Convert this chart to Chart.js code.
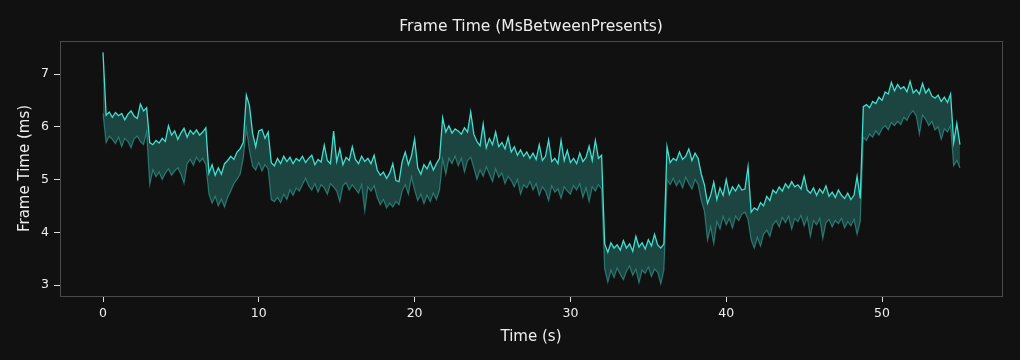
<!DOCTYPE html>
<html>
<head>
<meta charset="utf-8">
<script src="https://cdn.jsdelivr.net/npm/chart.js@4.4.1/dist/chart.umd.min.js"></script>
<style>
  html, body { margin: 0; padding: 0; background: #111111; }
  #wrap { width: 1020px; height: 360px; }
</style>
</head>
<body>
<div id="wrap"><canvas id="c" width="1020" height="360"></canvas></div>
<script>
  'use strict';

  // ── Datos (una muestra cada 0,2 s, 0 → 55 s) ──
  var T_STEP = 0.2;

  // Línea superior (cian brillante)
  var UPPER = [
    7.41, 6.22, 6.28, 6.18, 6.27,   // 0
    6.21, 6.25, 6.13, 6.24, 6.30,   // 1
    6.20, 6.16, 6.43, 6.30, 6.36,   // 2
    5.70, 5.66, 5.74, 5.69, 5.78,   // 3
    5.72, 6.02, 5.84, 5.92, 5.76,   // 4
    5.88, 5.97, 5.80, 5.93, 5.86,   // 5
    5.94, 5.84, 5.90, 5.98, 5.12,   // 6
    5.28, 5.08, 5.22, 5.10, 5.30,   // 7
    5.36, 5.44, 5.38, 5.52, 5.58,   // 8
    5.70, 6.60, 6.40, 5.88, 5.62,   // 9
    5.92, 5.95, 5.78, 5.90, 5.32,   // 10
    5.26, 5.40, 5.30, 5.44, 5.34,   // 11
    5.42, 5.30, 5.40, 5.35, 5.44,   // 12
    5.32, 5.40, 5.46, 5.28, 5.38,   // 13
    5.33, 5.65, 5.36, 5.30, 5.92,   // 14
    5.34, 5.58, 5.28, 5.42, 5.36,   // 15
    5.62, 5.38, 5.30, 5.44, 5.34,   // 16
    5.40, 5.30, 5.46, 5.18, 5.08,   // 17
    5.14, 5.02, 5.12, 5.30, 4.98,   // 18
    4.96, 5.34, 5.52, 5.28, 5.45,   // 19
    5.77, 5.22, 5.10, 5.28, 5.20,   // 20
    5.34, 5.18, 5.30, 5.40, 6.17,   // 21
    5.90, 6.02, 5.88, 5.96, 5.92,   // 22
    5.86, 5.98, 5.90, 6.28, 5.86,   // 23
    5.72, 5.64, 6.05, 5.60, 5.78,   // 24
    5.66, 5.90, 5.62, 5.70, 5.58,   // 25
    5.80, 5.52, 5.62, 5.46, 5.56,   // 26
    5.44, 5.52, 5.40, 5.50, 5.38,   // 27
    5.66, 5.36, 5.44, 5.75, 5.34,   // 28
    5.40, 5.30, 5.74, 5.36, 5.55,   // 29
    5.32, 5.40, 5.30, 5.50, 5.34,   // 30
    5.42, 5.63, 5.36, 5.74, 5.40,   // 31
    5.46, 3.78, 3.62, 3.80, 3.70,   // 32
    3.76, 3.66, 3.84, 3.70, 3.78,   // 33
    3.64, 3.92, 3.72, 3.80, 3.68,   // 34
    3.86, 3.74, 3.96, 3.76, 3.70,   // 35
    3.78, 5.62, 5.32, 5.40, 5.36,   // 36
    5.52, 5.38, 5.44, 5.58, 5.36,   // 37
    5.50, 5.40, 5.10, 4.90, 4.55,   // 38
    4.70, 4.95, 4.62, 4.84, 4.70,   // 39
    5.00, 4.72, 4.86, 4.78, 4.90,   // 40
    4.80, 4.82, 5.24, 4.38, 4.46,   // 41
    4.42, 4.56, 4.50, 4.68, 4.60,   // 42
    4.80, 4.74, 4.86, 4.78, 4.92,   // 43
    4.84, 4.96, 4.86, 4.90, 4.82,   // 44
    5.06, 4.80, 4.74, 4.84, 4.70,   // 45
    4.82, 4.74, 4.88, 4.68, 4.76,   // 46
    4.66, 4.80, 4.70, 4.64, 4.74,   // 47
    4.62, 4.70, 5.06, 4.64, 6.38,   // 48
    6.42, 6.36, 6.48, 6.44, 6.56,   // 49
    6.50, 6.66, 6.62, 6.84, 6.68,   // 50
    6.80, 6.72, 6.76, 6.66, 6.86,   // 51
    6.64, 6.70, 6.62, 6.82, 6.64,   // 52
    6.72, 6.58, 6.54, 6.60, 6.48,   // 53
    6.56, 6.46, 6.62, 5.70, 6.06,   // 54
    5.66                            // 55
  ];

  // Línea inferior (teal apagado)
  var LOWER = [
    6.25, 5.70, 5.82, 5.76, 5.68,   // 0
    5.80, 5.62, 5.78, 5.72, 5.60,   // 1
    5.77, 5.82, 5.72, 5.66, 5.90,   // 2
    4.90, 5.18, 5.05, 5.14, 5.00,   // 3
    5.12, 5.20, 5.08, 5.16, 5.22,   // 4
    5.10, 4.93, 5.30, 5.38, 5.27,   // 5
    5.42, 5.33, 5.40, 5.28, 4.72,   // 6
    4.55, 4.68, 4.50, 4.62, 4.48,   // 7
    4.66, 4.78, 4.92, 5.00, 5.10,   // 8
    5.40, 5.97, 5.55, 5.25, 5.18,   // 9
    5.32, 5.16, 5.28, 5.20, 4.62,   // 10
    4.58, 4.66, 4.56, 4.72, 4.62,   // 11
    4.80, 4.70, 4.84, 4.78, 4.90,   // 12
    5.02, 4.88, 4.80, 4.92, 4.76,   // 13
    4.90, 4.84, 4.72, 4.92, 4.86,   // 14
    4.78, 4.58, 4.88, 4.94, 4.80,   // 15
    4.90, 4.82, 4.74, 4.90, 4.40,   // 16
    4.86, 4.78, 4.88, 4.66, 4.52,   // 17
    4.62, 4.46, 4.55, 4.48, 4.58,   // 18
    4.52, 4.78, 4.90, 4.72, 5.05,   // 19
    4.80, 4.60, 4.72, 4.54, 4.70,   // 20
    4.58, 4.74, 4.62, 4.80, 5.38,   // 21
    5.10, 5.40, 5.30, 5.44, 5.26,   // 22
    5.40, 5.14, 5.36, 5.42, 5.22,   // 23
    5.00, 5.18, 5.06, 5.24, 5.10,   // 24
    4.96, 5.20, 5.04, 5.12, 4.92,   // 25
    5.06, 4.98, 4.86, 5.00, 4.72,   // 26
    4.90, 4.84, 4.96, 4.80, 4.92,   // 27
    4.70, 4.86, 4.78, 4.60, 4.88,   // 28
    4.76, 4.82, 4.64, 4.86, 4.78,   // 29
    4.72, 4.88, 4.80, 4.92, 4.66,   // 30
    4.84, 4.58, 4.86, 4.78, 4.90,   // 31
    4.82, 3.30, 3.05, 3.28, 3.14,   // 32
    3.32, 3.20, 3.10, 3.26, 3.36,   // 33
    3.18, 3.30, 3.04, 3.28, 3.22,   // 34
    3.34, 3.16, 3.30, 3.24, 3.02,   // 35
    3.28, 5.00, 4.90, 5.02, 4.88,   // 36
    4.98, 4.84, 5.04, 4.92, 4.82,   // 37
    5.00, 4.90, 4.60, 4.40, 3.85,   // 38
    4.10, 3.78, 4.20, 4.06, 4.30,   // 39
    4.14, 4.26, 4.08, 4.30, 4.22,   // 40
    4.34, 4.38, 4.24, 3.85, 3.70,   // 41
    3.90, 3.74, 3.96, 4.04, 3.92,   // 42
    4.14, 4.22, 4.10, 4.28, 4.18,   // 43
    4.30, 4.06, 4.26, 4.20, 4.32,   // 44
    4.12, 4.28, 3.92, 4.22, 4.14,   // 45
    4.26, 3.88, 4.18, 4.24, 4.10,   // 46
    4.22, 4.16, 4.26, 4.08, 4.20,   // 47
    4.12, 4.24, 3.96, 4.20, 5.80,   // 48
    5.74, 5.86, 5.80, 5.92, 5.84,   // 49
    5.96, 6.02, 5.94, 6.08, 6.02,   // 50
    6.10, 6.04, 6.18, 6.12, 6.24,   // 51
    6.30, 6.20, 5.86, 6.22, 6.14,   // 52
    6.02, 6.10, 5.94, 6.00, 5.76,   // 53
    5.96, 5.90, 6.02, 5.26, 5.36,   // 54
    5.22                            // 55
  ];

  var X_TICKS = [0, 10, 20, 30, 40, 50];
  var Y_TICKS = [3, 4, 5, 6, 7];

  var TITLE = 'Frame Time (MsBetweenPresents)';
  var X_LABEL = 'Time (s)';
  var Y_LABEL = 'Frame Time (ms)';

  // ── Armado ───────────────────────────────────────────────
  var TIME = UPPER.map(function (_, i) { return Math.round(i * T_STEP * 10) / 10; });
  function pts(arr) { return arr.map(function (v, i) { return { x: TIME[i], y: v }; }); }

  var FONT = 'DejaVu Sans';
  var TXT = '#eeeeee';

  var bgPlugin = {
    id: 'bg',
    beforeDraw: function (chart) {
      var c = chart.ctx;
      c.save();
      c.fillStyle = '#111111';
      c.fillRect(0, 0, chart.width, chart.height);
      c.restore();
    },
    afterDraw: function (chart) {
      // marco del área de trazado
      var a = chart.chartArea, c = chart.ctx;
      c.save();
      c.strokeStyle = '#4a4a4a';
      c.lineWidth = 1;
      c.strokeRect(Math.round(a.left) + 0.5, Math.round(a.top) + 0.5,
                   Math.round(a.right - a.left), Math.round(a.bottom - a.top));
      c.restore();
    }
  };

  new Chart(document.getElementById('c').getContext('2d'), {
    type: 'line',
    data: {
      datasets: [
        { label: 'upper', data: pts(UPPER), borderColor: '#40e0d0', borderWidth: 1.3,
          pointRadius: 0, tension: 0, fill: '+1', backgroundColor: 'rgba(64,224,208,0.25)' },
        { label: 'lower', data: pts(LOWER), borderColor: 'rgba(64,224,208,0.42)', borderWidth: 1.2,
          pointRadius: 0, tension: 0, fill: false }
      ]
    },
    options: {
      responsive: false, animation: false, devicePixelRatio: 1,
      layout: { padding: { left: 0, right: 18, top: 0, bottom: 0 } },
      plugins: {
        legend: { display: false },
        tooltip: { enabled: false },
        filler: { drawTime: 'beforeDatasetsDraw' },
        title: { display: true, text: TITLE, color: TXT, fullSize: false,
          font: { family: FONT, size: 15.5, weight: 'normal', lineHeight: 1.2 },
          padding: { top: 18, bottom: 4.4 } }
      },
      scales: {
        x: {
          type: 'linear', min: -2.76, max: 57.70,
          afterFit: function (s) { s.height = 64; },
          afterBuildTicks: function (s) { s.ticks = X_TICKS.map(function (v) { return { value: v }; }); },
          grid: { display: true, drawOnChartArea: false, drawTicks: true, tickLength: 6, tickColor: '#dddddd' },
          border: { display: false },
          ticks: { color: TXT, font: { family: FONT, size: 12.5 }, padding: 4, maxRotation: 0,
            callback: function (v) { return String(v); } },
          title: { display: true, text: X_LABEL, color: TXT, font: { family: FONT, size: 15, lineHeight: 1.2 },
            padding: { top: 0, bottom: 13.5 } }
        },
        y: {
          type: 'linear', min: 2.7915, max: 7.6256,
          afterFit: function (s) { s.width = 60; },
          afterBuildTicks: function (s) { s.ticks = Y_TICKS.map(function (v) { return { value: v }; }); },
          grid: { display: true, drawOnChartArea: false, drawTicks: true, tickLength: 6, tickColor: '#dddddd' },
          border: { display: false },
          ticks: { color: TXT, font: { family: FONT, size: 12.5 }, padding: 5,
            callback: function (v) { return String(v); } },
          title: { display: true, text: Y_LABEL, color: TXT, font: { family: FONT, size: 15, lineHeight: 1.2 },
            padding: { top: 16.5, bottom: 0 } }
        }
      }
    },
    plugins: [bgPlugin]
  });
</script>
</body>
</html>
